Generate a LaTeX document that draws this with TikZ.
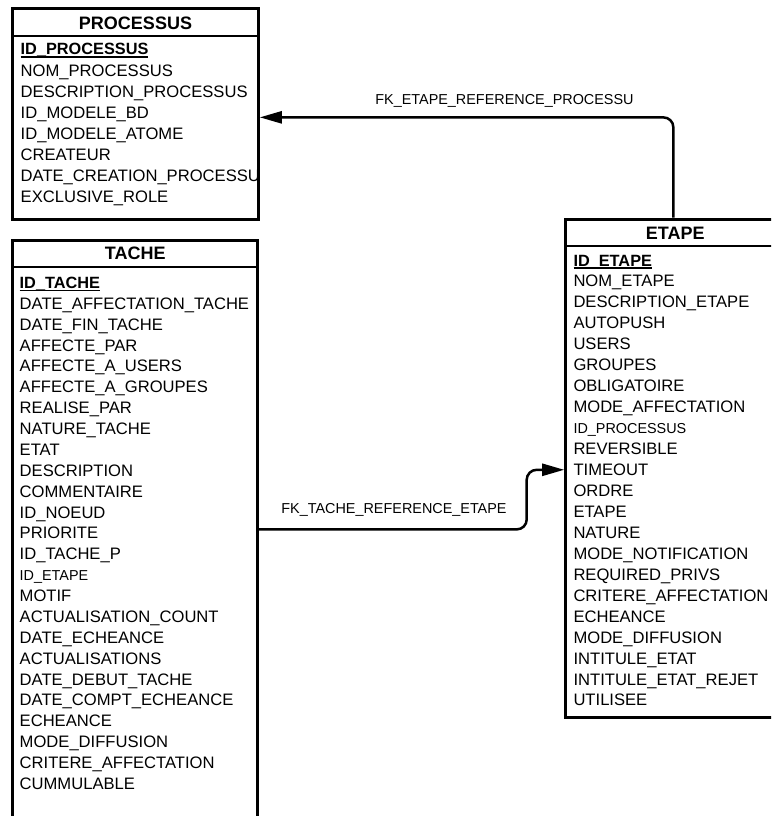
\documentclass[tikz,border=0pt]{standalone}
\usepackage{fontspec}
\setmainfont{Liberation Sans}
\usetikzlibrary{arrows.meta,calc}

% bold primary-key text with a thick underline
\newcommand\keyunderline[1]{\setbox0\hbox{#1}\rlap{\rule[-2.6pt]{\wd0}{1.6pt}}\box0}

\tikzset{
  tablebox/.style={draw, line width=3pt, inner sep=0pt, outer sep=1.5pt},
  tabletitle/.style={font=\fontsize{18}{20}\selectfont\bfseries, anchor=base, inner sep=0pt},
  field/.style={font=\fontsize{16.6}{19}\selectfont, anchor=base west, inner sep=0pt},
  smallfield/.style={field, font=\fontsize{14.4}{16}\selectfont},
  keyfield/.style={field, font=\fontsize{16.3}{19}\selectfont\bfseries},
  divider/.style={line width=2pt},
  fk/.style={line width=2.5pt, rounded corners=10pt, -{Triangle[length=22pt,width=12pt]}},
  fklabel/.style={font=\fontsize{14.4}{16}\selectfont, anchor=base, inner sep=0pt},
}

\begin{document}
\begin{tikzpicture}[x=1pt, y=-1pt]
\clip (0,0) rectangle (771,816);
\fill[white] (0,0) rectangle (771,816);

% ---- table boxes ----
\node[tablebox, minimum width=245.6pt, minimum height=210.3pt] (processus) at (135.5,114.15) {};
\node[tablebox, minimum width=245.0pt, minimum height=590pt] (tache) at (135.2,535) {};
\node[tablebox, minimum width=219.3pt, minimum height=498.3pt] (etape) at (675.35,468.15) {};

% header separators
\draw[divider] (processus.west |- 0,35.7) -- (processus.east |- 0,35.7);
\draw[divider] (tache.west |- 0,266.7) -- (tache.east |- 0,266.7);
\draw[divider] (etape.west |- 0,245.7) -- (etape.east |- 0,245.7);

% ---- PROCESSUS ----
\begin{scope}
\clip ([xshift=3pt,yshift=-3pt]processus.north west) rectangle ([xshift=-3pt,yshift=3pt]processus.south east);
\node[tabletitle] (processus-title) at (135.5,29.3) {PROCESSUS};
\foreach \sty/\nm/\txt [count=\i from 0] in {
  keyfield/p-id/{\keyunderline{ID\_PROCESSUS}},
  field/p-nom/{NOM\_PROCESSUS},
  field/p-desc/{DESCRIPTION\_PROCESSUS},
  field/p-bd/{ID\_MODELE\_BD},
  field/p-atome/{ID\_MODELE\_ATOME},
  field/p-createur/{CREATEUR},
  field/p-date/{DATE\_CREATION\_PROCESSUS},
  field/p-role/{EXCLUSIVE\_ROLE}}
  \node[\sty] (\nm) at (20.5,{55+21*\i}) {\txt};
\end{scope}

% ---- TACHE ----
\node[tabletitle] (tache-title) at (135.3,259.3) {TACHE};
\foreach \sty/\nm/\txt [count=\i from 0] in {
  keyfield/t-id/{\keyunderline{ID\_TACHE}},
  field/t-aff/{DATE\_AFFECTATION\_TACHE},
  field/t-fin/{DATE\_FIN\_TACHE},
  field/t-par/{AFFECTE\_PAR},
  field/t-users/{AFFECTE\_A\_USERS},
  field/t-groupes/{AFFECTE\_A\_GROUPES},
  field/t-realise/{REALISE\_PAR},
  field/t-nature/{NATURE\_TACHE},
  field/t-etat/{ETAT},
  field/t-desc/{DESCRIPTION},
  field/t-comm/{COMMENTAIRE},
  field/t-noeud/{ID\_NOEUD},
  field/t-priorite/{PRIORITE},
  field/t-tachep/{ID\_TACHE\_P},
  smallfield/t-etape/{ID\_ETAPE},
  field/t-motif/{MOTIF},
  field/t-count/{ACTUALISATION\_COUNT},
  field/t-dech/{DATE\_ECHEANCE},
  field/t-actu/{ACTUALISATIONS},
  field/t-debut/{DATE\_DEBUT\_TACHE},
  field/t-compt/{DATE\_COMPT\_ECHEANCE},
  field/t-ech/{ECHEANCE},
  field/t-diff/{MODE\_DIFFUSION},
  field/t-crit/{CRITERE\_AFFECTATION},
  field/t-cumul/{CUMMULABLE}}
  \node[\sty] (\nm) at (19.5,{288.5+20.87*\i}) {\txt};

% ---- ETAPE ----
\node[tabletitle] (etape-title) at (675.3,239.3) {ETAPE};
\foreach \sty/\nm/\txt [count=\i from 0] in {
  keyfield/e-id/{\keyunderline{ID\_ETAPE}},
  field/e-nom/{NOM\_ETAPE},
  field/e-desc/{DESCRIPTION\_ETAPE},
  field/e-push/{AUTOPUSH},
  field/e-users/{USERS},
  field/e-groupes/{GROUPES},
  field/e-oblig/{OBLIGATOIRE},
  field/e-aff/{MODE\_AFFECTATION},
  smallfield/e-proc/{ID\_PROCESSUS},
  field/e-rev/{REVERSIBLE},
  field/e-timeout/{TIMEOUT},
  field/e-ordre/{ORDRE},
  field/e-etape/{ETAPE},
  field/e-nature/{NATURE},
  field/e-notif/{MODE\_NOTIFICATION},
  field/e-privs/{REQUIRED\_PRIVS},
  field/e-crit/{CRITERE\_AFFECTATION},
  field/e-ech/{ECHEANCE},
  field/e-diff/{MODE\_DIFFUSION},
  field/e-etat/{INTITULE\_ETAT},
  field/e-rejet/{INTITULE\_ETAT\_REJET},
  field/e-util/{UTILISEE}}
  \node[\sty] (\nm) at (573.3,{266+20.95*\i}) {\txt};

% ---- foreign keys ----
\draw[fk] ([xshift=-2pt]etape.north) |- ([yshift=-3.2pt]processus.east);
\node[fklabel] (fk-processus) at (504.5,104) {FK\_ETAPE\_REFERENCE\_PROCESSU};

\draw[fk] ($(tache.east |- t-priorite.west)+(0,-3.8)$) -- ++(267.5,0) |- (e-timeout.west -| etape.west);
\node[fklabel] (fk-etape) at (394,513) {FK\_TACHE\_REFERENCE\_ETAPE};
\end{tikzpicture}
\end{document}
